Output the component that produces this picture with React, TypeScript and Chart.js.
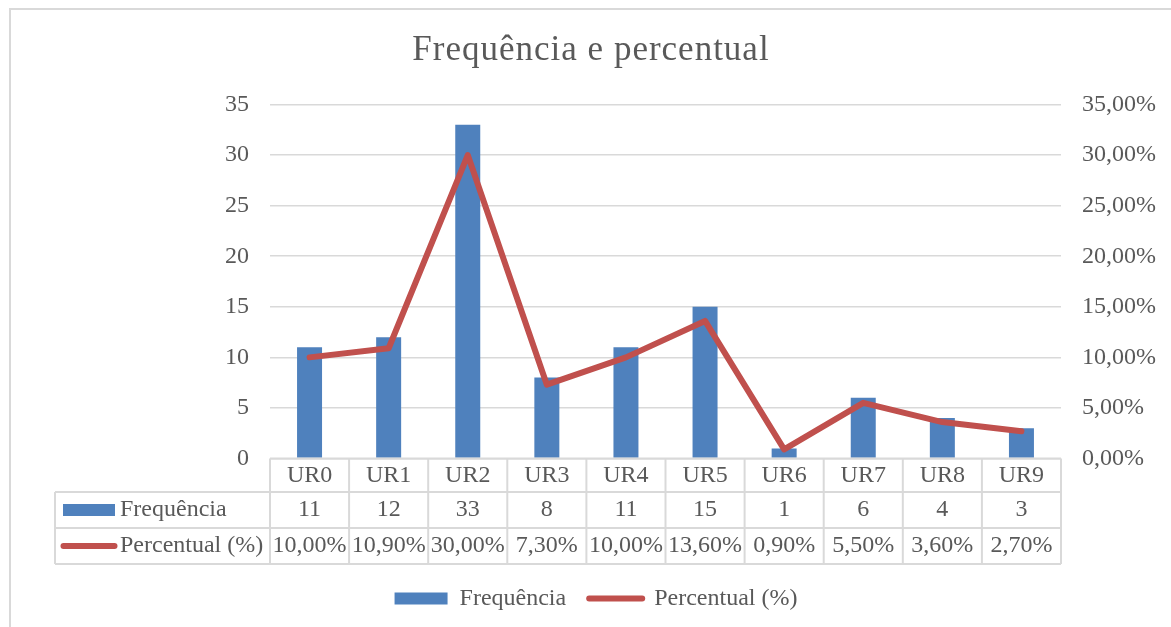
import React, { useEffect, useRef } from 'react';
import { Chart, registerables } from 'chart.js';

Chart.register(...registerables);

const titleText = 'Frequência e percentual';
const categories = ['UR0', 'UR1', 'UR2', 'UR3', 'UR4', 'UR5', 'UR6', 'UR7', 'UR8', 'UR9'];
const seriesNames = ['Frequência', 'Percentual (%)'];
const frequencia = [11, 12, 33, 8, 11, 15, 1, 6, 4, 3];
const percentual = [0.1, 0.109, 0.3, 0.073, 0.1, 0.136, 0.009, 0.055, 0.036, 0.027];
const leftAxis = { min: 0, max: 35, step: 5 };
const rightAxis = { min: 0, max: 0.35, step: 0.05 };

const FONT = '"Times New Roman", "Liberation Serif", serif';
const TEXT = '#595959';
const GRID = '#d9d9d9';
const BLUE = '#4f81bd';
const RED = '#c0504d';

const fmtPct = (v: number) => (v * 100).toFixed(2).replace('.', ',') + '%';

const decorPlugin = {
  id: 'decor',
  beforeDraw(chart: any) {
    const { ctx } = chart;
    ctx.save();
    ctx.strokeStyle = GRID;
    ctx.lineWidth = 2;
    ctx.strokeRect(10, 9, 1400, 900);
    ctx.restore();
  },
  afterDraw(chart: any) {
    const { ctx, chartArea } = chart;
    const xs = chart.scales.x;
    const n = categories.length;
    const catW = (chartArea.right - chartArea.left) / n;
    const y0 = chartArea.bottom;
    const y1 = y0 + 33.5;
    const y2 = y1 + 36;
    const y3 = y2 + 36;
    const keyLeft = 55;

    ctx.save();
    // title
    ctx.fillStyle = TEXT;
    ctx.font = `35px ${FONT}`;
    (ctx as any).letterSpacing = '1px';
    ctx.textAlign = 'center';
    ctx.textBaseline = 'alphabetic';
    ctx.fillText(titleText, 591, 60);
    (ctx as any).letterSpacing = '0px';

    // table grid
    ctx.strokeStyle = GRID;
    ctx.lineWidth = 2;
    const line = (ax: number, ay: number, bx: number, by: number) => {
      ctx.beginPath();
      ctx.moveTo(ax, ay);
      ctx.lineTo(bx, by);
      ctx.stroke();
    };
    line(chartArea.left, y0, chartArea.right, y0);
    line(keyLeft, y1, chartArea.right, y1);
    line(keyLeft, y2, chartArea.right, y2);
    line(keyLeft, y3, chartArea.right, y3);
    line(keyLeft, y1, keyLeft, y3);
    for (let i = 0; i < n; i++) {
      const cx = xs.getPixelForValue(i);
      line(cx - catW / 2, y0, cx - catW / 2, y3);
      if (i === n - 1) line(cx + catW / 2, y0, cx + catW / 2, y3);
    }

    // table text
    ctx.fillStyle = TEXT;
    ctx.font = `24px ${FONT}`;
    ctx.textAlign = 'center';
    ctx.textBaseline = 'middle';
    categories.forEach((c, i) => {
      const cx = xs.getPixelForValue(i);
      ctx.fillText(c, cx, (y0 + y1) / 2);
      ctx.fillText(String(frequencia[i]), cx, (y1 + y2) / 2);
      ctx.fillText(fmtPct(percentual[i]), cx, (y2 + y3) / 2);
    });

    // row keys
    ctx.textAlign = 'left';
    ctx.fillText(seriesNames[0], 120, (y1 + y2) / 2);
    ctx.fillText(seriesNames[1], 120, (y2 + y3) / 2);
    ctx.fillStyle = BLUE;
    ctx.fillRect(63, (y1 + y2) / 2 - 6, 52, 12);
    ctx.strokeStyle = RED;
    ctx.lineWidth = 6;
    ctx.lineCap = 'round';
    line(63.5, (y2 + y3) / 2, 114.5, (y2 + y3) / 2);
    ctx.restore();
  },
};

export default function App() {
  const ref = useRef<HTMLCanvasElement | null>(null);

  useEffect(() => {
    if (!ref.current) return;
    const tickFont = { family: FONT, size: 24 };
    const chart = new Chart(ref.current, {
      type: 'bar',
      data: {
        labels: categories,
        datasets: [
          {
            type: 'bar',
            label: seriesNames[0],
            data: frequencia,
            backgroundColor: BLUE,
            borderWidth: 0,
            yAxisID: 'y',
            categoryPercentage: 1,
            barPercentage: 0.316,
            order: 1,
          },
          {
            type: 'line',
            label: seriesNames[1],
            data: percentual,
            borderColor: RED,
            backgroundColor: RED,
            borderWidth: 6,
            pointRadius: 0,
            tension: 0,
            borderJoinStyle: 'round',
            borderCapStyle: 'round',
            yAxisID: 'y1',
            order: 0,
          },
        ],
      },
      options: {
        responsive: false,
        animation: false,
        layout: { padding: { top: 104.5, left: 21, right: 0, bottom: 6.5 } },
        plugins: {
          title: { display: false },
          tooltip: { enabled: false },
          legend: {
            position: 'bottom',
            labels: {
              usePointStyle: true,
              pointStyleWidth: 53,
              boxHeight: 12,
              padding: 23,
              color: TEXT,
              font: { family: FONT, size: 24 },
              generateLabels: () => [
                {
                  text: seriesNames[0],
                  fillStyle: BLUE,
                  strokeStyle: BLUE,
                  lineWidth: 0,
                  pointStyle: 'rect',
                  datasetIndex: 0,
                  hidden: false,
                  fontColor: TEXT,
                },
                {
                  text: seriesNames[1],
                  fillStyle: 'rgba(0,0,0,0)',
                  strokeStyle: RED,
                  lineWidth: 6,
                  lineCap: 'round',
                  pointStyle: 'line',
                  datasetIndex: 1,
                  hidden: false,
                  fontColor: TEXT,
                },
              ],
            },
          },
        },
        scales: {
          x: {
            grid: { display: false },
            border: { display: false },
            ticks: { display: false },
            afterFit: (s: any) => {
              s.height = 105;
            },
          },
          y: {
            position: 'left',
            min: leftAxis.min,
            max: leftAxis.max,
            ticks: { stepSize: leftAxis.step, padding: 21, color: TEXT, font: tickFont },
            grid: { color: GRID, lineWidth: 1.5, drawTicks: false },
            border: { display: false },
            afterFit: (s: any) => {
              s.width = 249;
            },
          },
          y1: {
            position: 'right',
            min: rightAxis.min,
            max: rightAxis.max,
            ticks: {
              stepSize: rightAxis.step,
              padding: 21,
              color: TEXT,
              font: tickFont,
              callback: (v: any) => fmtPct(Number(v)),
            },
            grid: { display: false, drawTicks: false },
            border: { display: false },
            afterFit: (s: any) => {
              s.width = 110;
            },
          },
        },
      },
      plugins: [decorPlugin],
    } as any);
    return () => chart.destroy();
  }, []);

  return (
    <div style={{ position: 'fixed', left: 0, top: 0, width: 1171, height: 627, background: '#fff' }}>
      <canvas ref={ref} width={1171} height={627} style={{ display: 'block' }} />
    </div>
  );
}
